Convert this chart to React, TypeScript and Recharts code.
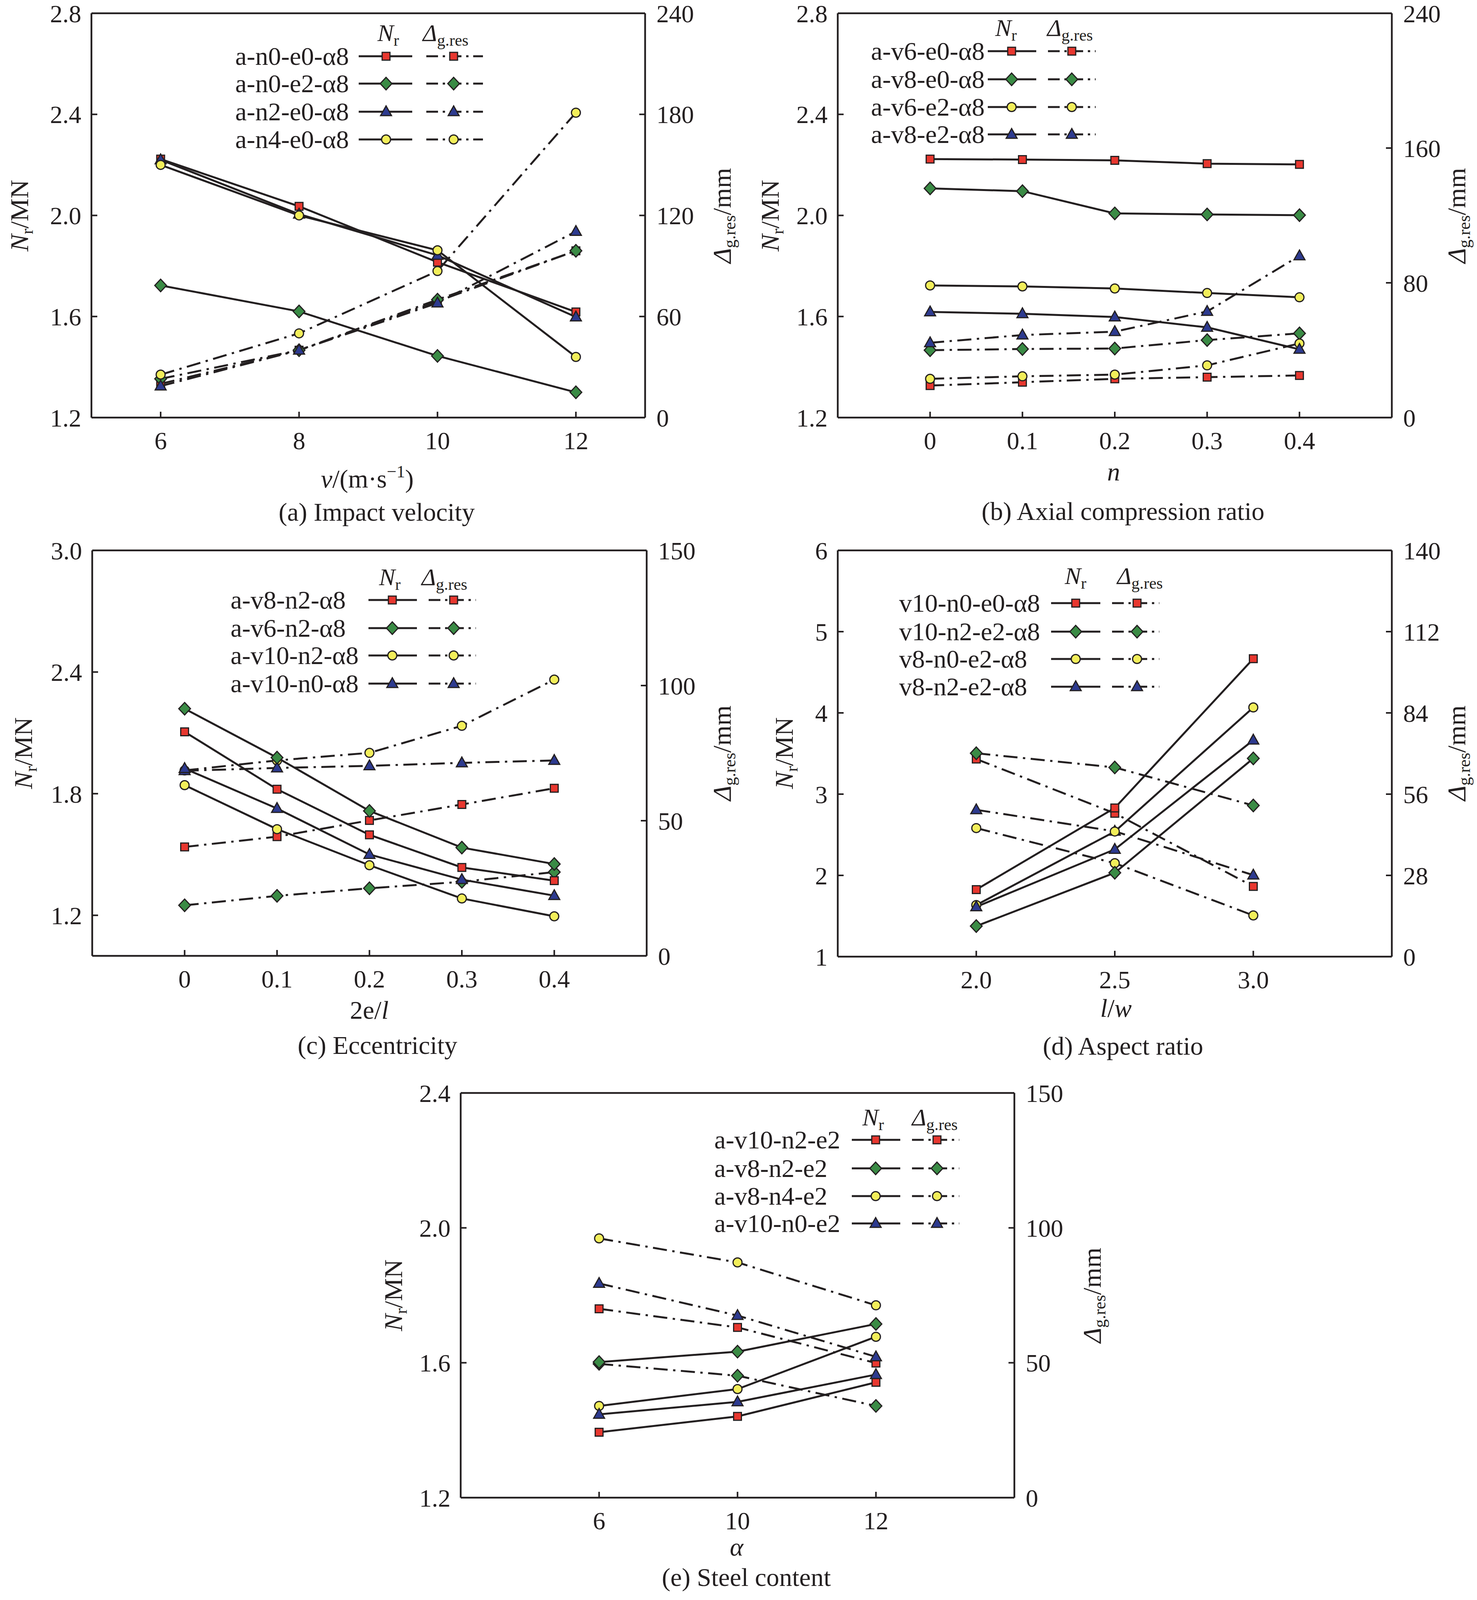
import React from 'react';
import { LineChart, Line, XAxis, YAxis, ReferenceLine } from 'recharts';

const INK = '#231f20';
const FONT = '"Liberation Serif", "Times New Roman", serif';
const RED = '#e8372f';
const GREEN = '#3a8b45';
const YELLOW = '#f2ee5a';
const BLUE = '#2d3a8f';

// ---------- (a) Impact velocity ----------
const velocity = [6, 8, 10, 12];
const velocityLabels = ['6', '8', '10', '12'];
const aNames = ['a-n0-e0-α8', 'a-n0-e2-α8', 'a-n2-e0-α8', 'a-n4-e0-α8'];
const aNr_n0e0 = [2.223, 2.036, 1.815, 1.618];
const aNr_n0e2 = [1.723, 1.62, 1.444, 1.3];
const aNr_n2e0 = [2.22, 2.005, 1.842, 1.598];
const aNr_n4e0 = [2.2, 2.0, 1.862, 1.44];
const aDg_n0e0 = [20, 40, 69, 99];
const aDg_n0e2 = [23, 40, 70, 99];
const aDg_n2e0 = [18.7, 40, 68, 110.5];
const aDg_n4e0 = [25.5, 50, 87, 181];

// ---------- (b) Axial compression ratio ----------
const axial = [0, 0.1, 0.2, 0.3, 0.4];
const axialLabels = ['0', '0.1', '0.2', '0.3', '0.4'];
const bNames = ['a-v6-e0-α8', 'a-v8-e0-α8', 'a-v6-e2-α8', 'a-v8-e2-α8'];
const bNr_v6e0 = [2.223, 2.221, 2.218, 2.205, 2.202];
const bNr_v8e0 = [2.107, 2.096, 2.008, 2.004, 2.001];
const bNr_v6e2 = [1.723, 1.719, 1.711, 1.693, 1.676];
const bNr_v8e2 = [1.618, 1.611, 1.598, 1.557, 1.47];
const bDg_v6e0 = [19, 21, 23, 24, 25];
const bDg_v8e0 = [40, 40.7, 41, 46, 50];
const bDg_v6e2 = [23, 24.5, 25.5, 31, 44];
const bDg_v8e2 = [44.4, 49, 51, 63, 96];

// ---------- (c) Eccentricity ----------
const ecc = [0, 0.1, 0.2, 0.3, 0.4];
const eccLabels = ['0', '0.1', '0.2', '0.3', '0.4'];
const cNames = ['a-v8-n2-α8', 'a-v6-n2-α8', 'a-v10-n2-α8', 'a-v10-n0-α8'];
const cNr_v8n2 = [2.105, 1.822, 1.597, 1.436, 1.371];
const cNr_v6n2 = [2.219, 1.978, 1.715, 1.534, 1.453];
const cNr_v10n2 = [1.842, 1.625, 1.447, 1.283, 1.195];
const cNr_v10n0 = [1.924, 1.727, 1.5, 1.376, 1.297];
const cDg_v8n2 = [40.3, 44.1, 50.1, 56, 62];
const cDg_v6n2 = [18.7, 22.2, 25, 27.4, 31];
const cDg_v10n2 = [68.6, 72.3, 75.1, 85.1, 102.2];
const cDg_v10n0 = [68.5, 69.5, 70.3, 71.4, 72.3];

// ---------- (d) Aspect ratio ----------
const aspect = [2.0, 2.5, 3.0];
const aspectLabels = ['2.0', '2.5', '3.0'];
const dNames = ['v10-n0-e0-α8', 'v10-n2-e2-α8', 'v8-n0-e2-α8', 'v8-n2-e2-α8'];
const dNr_v10n0e0 = [1.825, 2.83, 4.667];
const dNr_v10n2e2 = [1.376, 2.032, 3.44];
const dNr_v8n0e2 = [1.635, 2.54, 4.067];
const dNr_v8n2e2 = [1.613, 2.32, 3.665];
const dDg_v10n0e0 = [68.1, 49.4, 24.2];
const dDg_v10n2e2 = [70.1, 65.2, 52.1];
const dDg_v8n0e2 = [44.3, 32.2, 14.2];
const dDg_v8n2e2 = [50.6, 43.2, 28.1];

// ---------- (e) Steel content ----------
const steelPos = [1, 2, 3];
const steelLabels = ['6', '10', '12'];
const eNames = ['a-v10-n2-e2', 'a-v8-n2-e2', 'a-v8-n4-e2', 'a-v10-n0-e2'];
const eNr_v10n2 = [1.394, 1.441, 1.542];
const eNr_v8n2 = [1.602, 1.633, 1.715];
const eNr_v8n4 = [1.472, 1.522, 1.677];
const eNr_v10n0 = [1.447, 1.484, 1.565];
const eDg_v10n2 = [70, 63.1, 49.9];
const eDg_v8n2 = [49.6, 45.2, 34];
const eDg_v8n4 = [96.1, 87.2, 71.3];
const eDg_v10n0 = [79.4, 67.5, 52.2];

type Shape = 'square' | 'diamond' | 'circle' | 'triangle';
type Series = { name: string; color: string; shape: Shape; nr: number[]; dg: number[] };

// The photographed area ends near 4096 px, so vertical layout positions are compressed to fit.
const K = 0.918;
const Y = (v: number) => Math.round(v * K);

function Marker({ shape, cx, cy, color }: { shape: Shape; cx: number; cy: number; color: string }) {
  const common = { fill: color, stroke: INK, strokeWidth: 3 };
  if (shape === 'square') return <rect x={cx - 10} y={cy - 10} width={20} height={20} {...common} />;
  if (shape === 'diamond')
    return <polygon points={`${cx},${cy - 16} ${cx + 15},${cy} ${cx},${cy + 16} ${cx - 15},${cy}`} {...common} />;
  if (shape === 'circle') return <circle cx={cx} cy={cy} r={11.5} {...common} />;
  return <polygon points={`${cx},${cy - 15} ${cx + 14},${cy + 10} ${cx - 14},${cy + 10}`} {...common} />;
}

type Legend = {
  nX: number; dX: number; hY: number; rows: number[]; labelX: number;
  solid: [number, number, number]; dash: [number, number, number];
};

type Panel = {
  id: string;
  box: { l: number; r: number; t: number; b: number };
  x: number[]; xLabels: string[]; xDomain: [number, number];
  yl: [number, number]; ylTicks: number[]; ylFmt: (v: number) => string;
  yr: [number, number]; yrTicks: number[];
  series: Series[];
  legend: Legend;
  yLabL: [number, number]; yLabR: [number, number];
  xTitle: React.ReactNode; xTitlePos: [number, number];
  caption: string; capPos: [number, number];
};

const f1 = (v: number) => v.toFixed(1);
const f0 = (v: number) => String(Math.round(v));

const PANELS_RAW: Panel[] = [
  {
    id: 'a', box: { l: 234, r: 1651, t: 37, b: 1165 },
    x: velocity, xLabels: velocityLabels, xDomain: [5, 13],
    yl: [1.2, 2.8], ylTicks: [1.2, 1.6, 2.0, 2.4, 2.8], ylFmt: f1,
    yr: [0, 240], yrTicks: [0, 60, 120, 180, 240],
    series: [
      { name: aNames[0], color: RED, shape: 'square', nr: aNr_n0e0, dg: aDg_n0e0 },
      { name: aNames[1], color: GREEN, shape: 'diamond', nr: aNr_n0e2, dg: aDg_n0e2 },
      { name: aNames[2], color: BLUE, shape: 'triangle', nr: aNr_n2e0, dg: aDg_n2e0 },
      { name: aNames[3], color: YELLOW, shape: 'circle', nr: aNr_n4e0, dg: aDg_n4e0 },
    ],
    legend: { nX: 966, dX: 1082, hY: 114, rows: [157, 233, 312, 389], labelX: 602, solid: [918, 1055, 988], dash: [1091, 1236, 1161] },
    yLabL: [50, 601], yLabR: [1848, 601],
    xTitle: (<><tspan fontStyle="italic">v</tspan><tspan>/(m·s</tspan><tspan fontSize={44} dy={-26}>−1</tspan><tspan dy={26}>)</tspan></>),
    xTitlePos: [940, 1360],
    caption: '(a) Impact velocity', capPos: [964, 1452],
  },
  {
    id: 'b', box: { l: 2144, r: 3562, t: 37, b: 1165 },
    x: axial, xLabels: axialLabels, xDomain: [-0.1, 0.5],
    yl: [1.2, 2.8], ylTicks: [1.2, 1.6, 2.0, 2.4, 2.8], ylFmt: f1,
    yr: [0, 240], yrTicks: [0, 80, 160, 240],
    series: [
      { name: bNames[0], color: RED, shape: 'square', nr: bNr_v6e0, dg: bDg_v6e0 },
      { name: bNames[1], color: GREEN, shape: 'diamond', nr: bNr_v8e0, dg: bDg_v8e0 },
      { name: bNames[2], color: YELLOW, shape: 'circle', nr: bNr_v6e2, dg: bDg_v6e2 },
      { name: bNames[3], color: BLUE, shape: 'triangle', nr: bNr_v8e2, dg: bDg_v8e2 },
    ],
    legend: { nX: 2547, dX: 2680, hY: 100, rows: [143, 221, 299, 375], labelX: 2229, solid: [2528, 2652, 2589], dash: [2682, 2804, 2743] },
    yLabL: [1971, 601], yLabR: [3728, 601],
    xTitle: (<tspan fontStyle="italic">n</tspan>),
    xTitlePos: [2850, 1340],
    caption: '(b) Axial compression ratio', capPos: [2874, 1450],
  },
  {
    id: 'c', box: { l: 236, r: 1655, t: 1535, b: 2666 },
    x: ecc, xLabels: eccLabels, xDomain: [-0.1, 0.5],
    yl: [1.0, 3.0], ylTicks: [1.2, 1.8, 2.4, 3.0], ylFmt: f1,
    yr: [0, 150], yrTicks: [0, 50, 100, 150],
    series: [
      { name: cNames[0], color: RED, shape: 'square', nr: cNr_v8n2, dg: cDg_v8n2 },
      { name: cNames[1], color: GREEN, shape: 'diamond', nr: cNr_v6n2, dg: cDg_v6n2 },
      { name: cNames[2], color: YELLOW, shape: 'circle', nr: cNr_v10n2, dg: cDg_v10n2 },
      { name: cNames[3], color: BLUE, shape: 'triangle', nr: cNr_v10n0, dg: cDg_v10n0 },
    ],
    legend: { nX: 970, dX: 1079, hY: 1632, rows: [1673, 1752, 1828, 1906], labelX: 590, solid: [943, 1067, 1004], dash: [1097, 1218, 1161] },
    yLabL: [60, 2100], yLabR: [1848, 2100],
    xTitle: (<><tspan>2e/</tspan><tspan fontStyle="italic">l</tspan></>),
    xTitlePos: [945, 2841],
    caption: '(c) Eccentricity', capPos: [966, 2939],
  },
  {
    id: 'd', box: { l: 2144, r: 3562, t: 1535, b: 2668 },
    x: aspect, xLabels: aspectLabels, xDomain: [1.5, 3.5],
    yl: [1, 6], ylTicks: [1, 2, 3, 4, 5, 6], ylFmt: f0,
    yr: [0, 140], yrTicks: [0, 28, 56, 84, 112, 140],
    series: [
      { name: dNames[0], color: RED, shape: 'square', nr: dNr_v10n0e0, dg: dDg_v10n0e0 },
      { name: dNames[1], color: GREEN, shape: 'diamond', nr: dNr_v10n2e2, dg: dDg_v10n2e2 },
      { name: dNames[2], color: YELLOW, shape: 'circle', nr: dNr_v8n0e2, dg: dDg_v8n0e2 },
      { name: dNames[3], color: BLUE, shape: 'triangle', nr: dNr_v8n2e2, dg: dDg_v8n2e2 },
    ],
    legend: { nX: 2725, dX: 2859, hY: 1629, rows: [1682, 1761, 1838, 1915], labelX: 2301, solid: [2690, 2816, 2753], dash: [2846, 2967, 2910] },
    yLabL: [2007, 2100], yLabR: [3728, 2100],
    xTitle: (<><tspan fontStyle="italic">l</tspan><tspan>/</tspan><tspan fontStyle="italic">w</tspan></>),
    xTitlePos: [2856, 2836],
    caption: '(d) Aspect ratio', capPos: [2874, 2941],
  },
  {
    id: 'e', box: { l: 1179, r: 2596, t: 3048, b: 4177 },
    x: steelPos, xLabels: steelLabels, xDomain: [0, 4],
    yl: [1.2, 2.4], ylTicks: [1.2, 1.6, 2.0, 2.4], ylFmt: f1,
    yr: [0, 150], yrTicks: [0, 50, 100, 150],
    series: [
      { name: eNames[0], color: RED, shape: 'square', nr: eNr_v10n2, dg: eDg_v10n2 },
      { name: eNames[1], color: GREEN, shape: 'diamond', nr: eNr_v8n2, dg: eDg_v8n2 },
      { name: eNames[2], color: YELLOW, shape: 'circle', nr: eNr_v8n4, dg: eDg_v8n4 },
      { name: eNames[3], color: BLUE, shape: 'triangle', nr: eNr_v10n0, dg: eDg_v10n0 },
    ],
    legend: { nX: 2207, dX: 2334, hY: 3138, rows: [3179, 3258, 3335, 3412], labelX: 1828, solid: [2180, 2304, 2241], dash: [2334, 2455, 2398] },
    yLabL: [1007, 3612], yLabR: [2795, 3612],
    xTitle: (<tspan fontStyle="italic">α</tspan>),
    xTitlePos: [1885, 4338],
    caption: '(e) Steel content', capPos: [1910, 4423],
  },
];

const PANELS: Panel[] = PANELS_RAW.map((p) => ({
  ...p,
  box: { ...p.box, t: Y(p.box.t), b: Y(p.box.b) },
  legend: { ...p.legend, hY: Y(p.legend.hY), rows: p.legend.rows.map(Y) },
  yLabL: [p.yLabL[0], Y(p.yLabL[1])],
  yLabR: [p.yLabR[0], Y(p.yLabR[1])],
  xTitlePos: [p.xTitlePos[0], Y(p.xTitlePos[1])],
  capPos: [p.capPos[0], Y(p.capPos[1])],
}));

const PAD_L = 230;
const PAD_R = 230;
const PAD_T = 40;
const PAD_B = 110;
const DASH = '36 14 6 14';

function ChartPanel({ cfg }: { cfg: Panel }) {
  const rows = cfg.x.map((xv, i) => {
    const r: Record<string, number> = { x: xv };
    cfg.series.forEach((s, k) => {
      r['nr' + k] = s.nr[i];
      r['dg' + k] = s.dg[i];
    });
    return r;
  });
  const W = cfg.box.r - cfg.box.l + PAD_L + PAD_R;
  const H = cfg.box.b - cfg.box.t + PAD_T + PAD_B;
  const tickStyle = { fill: INK, fontSize: 64, fontFamily: FONT };
  const axisLine = { stroke: INK, strokeWidth: 4.5 };
  const tickLine = { stroke: INK, strokeWidth: 4 };
  const dotFn = (s: Series, key: string) => (p: any) => {
    if (p == null || p.cx == null || p.cy == null) return <g key={`${key}-${p?.index}`} />;
    return <Marker key={`${key}-${p.index}`} shape={s.shape} cx={p.cx} cy={p.cy} color={s.color} />;
  };
  return (
    <div style={{ position: 'absolute', left: cfg.box.l - PAD_L, top: cfg.box.t - PAD_T, width: W, height: H }}>
      <LineChart width={W} height={H} data={rows} margin={{ top: PAD_T, right: 0, bottom: 0, left: 0 }}>
        <XAxis
          dataKey="x" type="number" domain={cfg.xDomain} ticks={cfg.x} allowDataOverflow interval={0}
          tickFormatter={(v: number) => cfg.xLabels[cfg.x.indexOf(v)] ?? String(v)}
          height={PAD_B} tickSize={-15} tickMargin={51} tick={tickStyle} axisLine={axisLine} tickLine={tickLine}
        />
        <YAxis
          yAxisId="left" orientation="left" type="number" domain={cfg.yl} ticks={cfg.ylTicks} allowDataOverflow interval={0}
          tickFormatter={cfg.ylFmt} width={PAD_L} tickSize={-15} tickMargin={41}
          tick={tickStyle} axisLine={axisLine} tickLine={tickLine}
        />
        <YAxis
          yAxisId="right" orientation="right" type="number" domain={cfg.yr} ticks={cfg.yrTicks} allowDataOverflow interval={0}
          tickFormatter={f0} width={PAD_R} tickSize={-15} tickMargin={44}
          tick={tickStyle} axisLine={axisLine} tickLine={tickLine}
        />
        <ReferenceLine yAxisId="left" y={cfg.yl[1]} stroke={INK} strokeWidth={4.5} />
        {cfg.series.map((s, k) => (
          <Line
            key={'dg' + k} yAxisId="right" dataKey={'dg' + k} type="linear" stroke={INK} strokeWidth={5}
            strokeDasharray={DASH} dot={dotFn(s, cfg.id + 'dg' + k)} activeDot={false} isAnimationActive={false}
          />
        ))}
        {cfg.series.map((s, k) => (
          <Line
            key={'nr' + k} yAxisId="left" dataKey={'nr' + k} type="linear" stroke={INK} strokeWidth={5}
            dot={dotFn(s, cfg.id + 'nr' + k)} activeDot={false} isAnimationActive={false}
          />
        ))}
      </LineChart>
    </div>
  );
}

function PanelText({ cfg }: { cfg: Panel }) {
  const L = cfg.legend;
  const [lx, ly] = cfg.yLabL;
  const [rx, ry] = cfg.yLabR;
  return (
    <g>
      <text transform={`rotate(-90 ${lx} ${ly})`} x={lx} y={ly + 22} textAnchor="middle" fontSize={66}>
        <tspan fontStyle="italic">N</tspan>
        <tspan fontSize={44} dy={12}>r</tspan>
        <tspan dy={-12}>/MN</tspan>
      </text>
      <text transform={`rotate(-90 ${rx} ${ry})`} x={rx} y={ry + 22} textAnchor="middle" fontSize={66}>
        <tspan fontStyle="italic">Δ</tspan>
        <tspan fontSize={44} dy={12}>g.res</tspan>
        <tspan dy={-12}>/mm</tspan>
      </text>
      <text x={cfg.xTitlePos[0]} y={cfg.xTitlePos[1]} textAnchor="middle" fontSize={66}>{cfg.xTitle}</text>
      <text x={cfg.capPos[0]} y={cfg.capPos[1]} textAnchor="middle" fontSize={66}>{cfg.caption}</text>
      <text x={L.nX} y={L.hY} fontSize={62}>
        <tspan fontStyle="italic">N</tspan>
        <tspan fontSize={42} dy={12}>r</tspan>
      </text>
      <text x={L.dX} y={L.hY} fontSize={62}>
        <tspan fontStyle="italic">Δ</tspan>
        <tspan fontSize={42} dy={12}>g.res</tspan>
      </text>
      {cfg.series.map((s, k) => {
        const y = L.rows[k];
        return (
          <g key={k}>
            <text x={L.labelX} y={y + 22} fontSize={66}>{s.name}</text>
            <line x1={L.solid[0]} x2={L.solid[1]} y1={y} y2={y} stroke={INK} strokeWidth={5} />
            <Marker shape={s.shape} cx={L.solid[2]} cy={y} color={s.color} />
            <line x1={L.dash[0]} x2={L.dash[1]} y1={y} y2={y} stroke={INK} strokeWidth={5} strokeDasharray="30 12 6 12" />
            <Marker shape={s.shape} cx={L.dash[2]} cy={y} color={s.color} />
          </g>
        );
      })}
    </g>
  );
}

export default function App() {
  return (
    <div style={{ position: 'relative', width: 3780, height: 4096, marginTop: -8, marginLeft: -8, background: '#ffffff', overflow: 'hidden' }}>
      {PANELS.map((p) => (
        <ChartPanel key={p.id} cfg={p} />
      ))}
      <svg
        width={3780} height={4096}
        style={{ position: 'absolute', left: 0, top: 0, pointerEvents: 'none' }}
        fontFamily={FONT} fill={INK}
      >
        {PANELS.map((p) => (
          <PanelText key={p.id} cfg={p} />
        ))}
      </svg>
    </div>
  );
}
